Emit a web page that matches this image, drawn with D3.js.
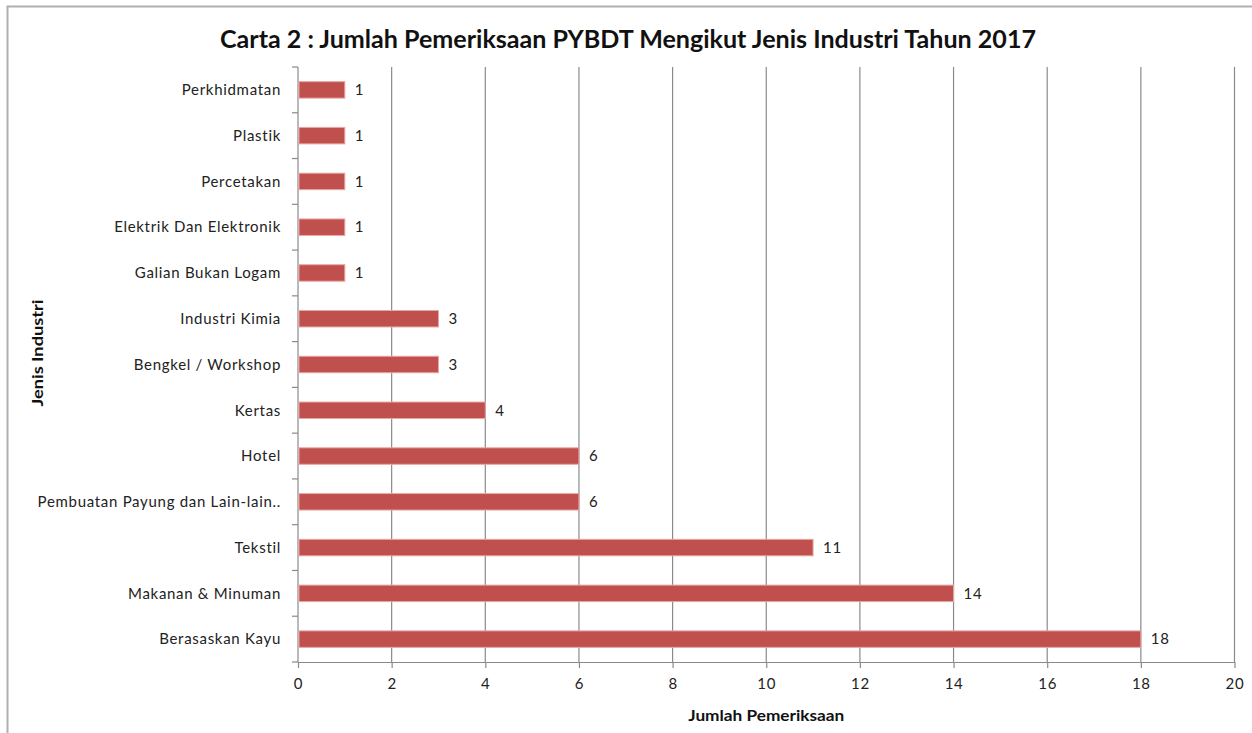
<!DOCTYPE html>
<html>
<head>
<meta charset="utf-8">
<script src="https://cdn.jsdelivr.net/npm/d3@7"></script>
<style>
  html, body { margin: 0; padding: 0; background: #fff; }
  svg { display: block; }
  text { font-family: Lato, "Open Sans", "DejaVu Sans", sans-serif; }
  .lbl { font-size: 15px; letter-spacing: 0.7px; fill: #222; }
</style>
</head>
<body>
<svg id="chart" width="1252" height="733"></svg>
<script>
// Industry categories, top to bottom
const categories = [
  "Perkhidmatan",
  "Plastik",
  "Percetakan",
  "Elektrik Dan Elektronik",
  "Galian Bukan Logam",
  "Industri Kimia",
  "Bengkel / Workshop",
  "Kertas",
  "Hotel",
  "Pembuatan Payung dan Lain-lain..",
  "Tekstil",
  "Makanan & Minuman",
  "Berasaskan Kayu"
];
// Number of inspections per industry
const values = [1, 1, 1, 1, 1, 3, 3, 4, 6, 6, 11, 14, 18];
const xTicks = [0, 2, 4, 6, 8, 10, 12, 14, 16, 18, 20];

const titleText = "Carta 2 : Jumlah Pemeriksaan PYBDT Mengikut Jenis Industri Tahun 2017";
const xTitle = "Jumlah Pemeriksaan";
const yTitle = "Jenis Industri";

const svg = d3.select("#chart");
const W = 1252, H = 733;
const m = { left: 298, right: 1234.5, top: 67, bottom: 662 };

// outer frame
svg.append("rect")
  .attr("x", 7.5).attr("y", 6.5)
  .attr("width", W + 10).attr("height", H + 10)
  .attr("fill", "#fff").attr("stroke", "#b0b0b0").attr("stroke-width", 2);

const x = d3.scaleLinear().domain([0, 20]).range([m.left, m.right]);
const y = d3.scaleBand().domain(categories).range([m.top, m.bottom]).padding(0);
const barH = y.bandwidth() * 0.36;

// vertical gridlines
svg.append("g").selectAll("line")
  .data(xTicks.slice(1))
  .join("line")
  .attr("x1", d => x(d)).attr("x2", d => x(d))
  .attr("y1", m.top).attr("y2", m.bottom)
  .attr("stroke", "#8a8a8a").attr("stroke-width", 1.2);

// bottom axis
const xAxis = svg.append("g")
  .attr("transform", `translate(0,${m.bottom})`)
  .call(d3.axisBottom(x).tickValues(xTicks).tickSize(6).tickSizeOuter(0).tickPadding(10));
xAxis.select(".domain").attr("stroke", "#8a8a8a").attr("stroke-width", 1.2);
xAxis.selectAll(".tick line").attr("stroke", "#8a8a8a").attr("stroke-width", 1.2);
xAxis.selectAll(".tick text")
  .attr("class", "lbl").attr("fill", null)
  .attr("font-size", null).attr("font-family", null);
xAxis.attr("font-size", null).attr("font-family", null);

// left axis with ticks on band boundaries
const yAxisG = svg.append("g");
yAxisG.append("line")
  .attr("x1", m.left).attr("x2", m.left)
  .attr("y1", m.top).attr("y2", m.bottom)
  .attr("stroke", "#8a8a8a").attr("stroke-width", 1.2);
const bounds = categories.map(c => y(c)).concat([m.bottom]);
yAxisG.selectAll("line.tk")
  .data(bounds)
  .join("line").attr("class", "tk")
  .attr("x1", m.left - 6).attr("x2", m.left)
  .attr("y1", d => d).attr("y2", d => d)
  .attr("stroke", "#8a8a8a").attr("stroke-width", 1.2);

// category labels
svg.append("g").selectAll("text")
  .data(categories)
  .join("text")
  .attr("class", "lbl")
  .attr("x", m.left - 17)
  .attr("y", d => y(d) + y.bandwidth() / 2)
  .attr("dy", "0.35em")
  .attr("text-anchor", "end")
  .text(d => d);

// bars
const rows = categories.map((c, i) => ({ c, v: values[i] }));
svg.append("g").selectAll("rect")
  .data(rows)
  .join("rect")
  .attr("x", x(0) + 1)
  .attr("y", d => y(d.c) + (y.bandwidth() - barH) / 2)
  .attr("width", d => x(d.v) - x(0) - 1)
  .attr("height", barH)
  .attr("fill", "#c0504d")
  .attr("stroke", "#e8a6a4")
  .attr("stroke-width", 1);

// value labels
svg.append("g").selectAll("text")
  .data(rows)
  .join("text")
  .attr("class", "lbl")
  .attr("x", d => x(d.v) + 10)
  .attr("y", d => y(d.c) + y.bandwidth() / 2)
  .attr("dy", "0.35em")
  .text(d => d.v);

// title
svg.append("text")
  .attr("x", 628).attr("y", 48)
  .attr("text-anchor", "middle")
  .attr("fill", "#111")
  .style("font-size", "24px").style("font-weight", "bold")
  .attr("textLength", 816).attr("lengthAdjust", "spacingAndGlyphs")
  .text(titleText);

// axis titles
svg.append("text")
  .attr("x", (m.left + m.right) / 2).attr("y", 721)
  .attr("text-anchor", "middle")
  .attr("fill", "#111")
  .style("font-size", "15px").style("font-weight", "bold")
  .attr("textLength", 156).attr("lengthAdjust", "spacingAndGlyphs")
  .text(xTitle);

svg.append("text")
  .attr("transform", "translate(43,353) rotate(-90)")
  .attr("text-anchor", "middle")
  .attr("fill", "#111")
  .style("font-size", "16px").style("font-weight", "bold")
  .attr("textLength", 107).attr("lengthAdjust", "spacingAndGlyphs")
  .text(yTitle);
</script>
</body>
</html>
